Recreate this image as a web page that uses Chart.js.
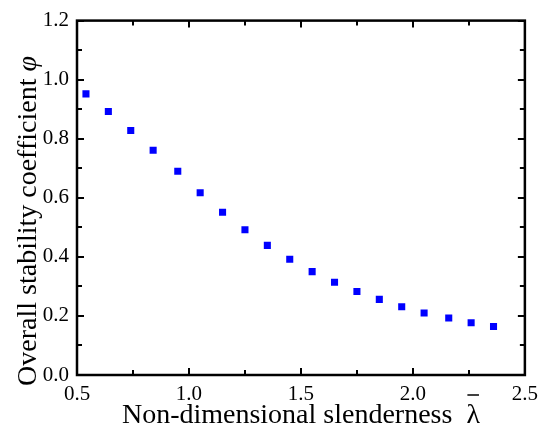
<!DOCTYPE html>
<html>
<head>
<meta charset="utf-8">
<script src="https://cdn.jsdelivr.net/npm/chart.js@4"></script>
<style>
  html, body { margin: 0; padding: 0; background: #fff; }
  #wrap { width: 545px; height: 429px; position: relative; }
</style>
</head>
<body>
<div id="wrap"><canvas id="mainChart" width="545" height="429"></canvas></div>
<script>
// ============ DATA ============

const slenderness = [0.54, 0.64, 0.74, 0.84, 0.95, 1.05, 1.15, 1.25, 1.35, 1.45,
                     1.55, 1.65, 1.75, 1.85, 1.95, 2.05, 2.16, 2.26, 2.36];
const stability = [0.952, 0.892, 0.828, 0.761, 0.690, 0.617, 0.551, 0.492, 0.439, 0.392,
                   0.350, 0.314, 0.283, 0.256, 0.231, 0.210, 0.193, 0.177, 0.164];
const xTitle = 'Non-dimensional slenderness  ';
const xSymbol = 'λ';
const yTitle = 'Overall stability coefficient ';
const ySymbol = 'φ';

const FONT = '"Liberation Serif", "Times New Roman", serif';

// ============ PLUGIN: inner ticks on all sides + axis titles ============

const frameTicks = {
    id: 'frameTicks',
    afterDraw(chart) {
        const ctx = chart.ctx;
        const a = chart.chartArea;
        const xs = chart.scales.x;
        const ys = chart.scales.y;
        ctx.save();
        ctx.strokeStyle = '#000';
        ctx.lineWidth = 2.5;
        ctx.strokeRect(a.left, a.top, a.right - a.left, a.bottom - a.top);

        ctx.lineWidth = 2;
        ctx.beginPath();
        for (let v = 0.5; v <= 2.5001; v += 0.25) {
            const px = Math.round(xs.getPixelForValue(v));
            const len = Math.abs((v * 2) % 1) < 0.01 ? 7 : 5;
            ctx.moveTo(px, a.bottom); ctx.lineTo(px, a.bottom - len);
            ctx.moveTo(px, a.top); ctx.lineTo(px, a.top + len);
        }
        for (let v = 0; v <= 1.2001; v += 0.1) {
            const py = Math.round(ys.getPixelForValue(v));
            const r = (v * 5) % 1;
            const len = r < 0.01 || r > 0.99 ? 7 : 5;
            ctx.moveTo(a.left, py); ctx.lineTo(a.left + len, py);
            ctx.moveTo(a.right, py); ctx.lineTo(a.right - len, py);
        }
        ctx.stroke();

        // x axis title
        ctx.fillStyle = '#000';
        ctx.font = '28px ' + FONT;
        ctx.textBaseline = 'alphabetic';
        const w1 = ctx.measureText(xTitle).width;
        const w2 = ctx.measureText(xSymbol).width;
        const cx = (a.left + a.right) / 2;
        const x0 = cx - (w1 + w2) / 2;
        ctx.textAlign = 'left';
        ctx.fillText(xTitle, x0, 423);
        ctx.fillText(xSymbol, x0 + w1, 423);
        ctx.lineWidth = 1.5;
        ctx.beginPath();
        ctx.moveTo(x0 + w1 + 1, 395);
        ctx.lineTo(x0 + w1 + w2 - 1, 395);
        ctx.stroke();

        // y axis title
        ctx.translate(36, 221);
        ctx.rotate(-Math.PI / 2);
        ctx.font = '28px ' + FONT;
        const v1 = ctx.measureText(yTitle).width;
        ctx.font = 'italic 28px ' + FONT;
        const v2 = ctx.measureText(ySymbol).width;
        const y0 = -(v1 + v2) / 2;
        ctx.font = '28px ' + FONT;
        ctx.fillText(yTitle, y0, 0);
        ctx.font = 'italic 28px ' + FONT;
        ctx.fillText(ySymbol, y0 + v1, 0);
        ctx.restore();
    }
};

// ============ CHART ============

const ctx = document.getElementById('mainChart').getContext('2d');

const chart = new Chart(ctx, {
    type: 'scatter',
    data: {
        datasets: [{
            label: 'phi',
            data: slenderness.map((x, i) => ({ x: x, y: stability[i] })),
            backgroundColor: '#0000ff',
            borderColor: '#0000ff',
            borderWidth: 0,
            pointStyle: 'rect',
            pointRadius: 5,
            pointHoverRadius: 5
        }]
    },
    options: {
        responsive: false,
        animation: false,
        layout: { padding: { top: 14, right: 17, left: 0, bottom: 0 } },
        scales: {
            x: {
                type: 'linear',
                min: 0.5,
                max: 2.5,
                afterFit(scale) { scale.height = 54; },
                grid: { display: false, drawTicks: false },
                border: { display: false },
                ticks: {
                    stepSize: 0.5,
                    padding: 7,
                    color: '#000',
                    font: { family: FONT, size: 21 },
                    callback: v => v.toFixed(1)
                }
            },
            y: {
                type: 'linear',
                min: 0,
                max: 1.2,
                afterFit(scale) { scale.width = 77; },
                grid: { display: false, drawTicks: false },
                border: { display: false },
                ticks: {
                    stepSize: 0.2,
                    padding: 8,
                    color: '#000',
                    font: { family: FONT, size: 21 },
                    callback: v => v.toFixed(1)
                }
            }
        },
        plugins: {
            legend: { display: false },
            tooltip: { enabled: false }
        }
    },
    plugins: [frameTicks]
});
</script>
</body>
</html>
